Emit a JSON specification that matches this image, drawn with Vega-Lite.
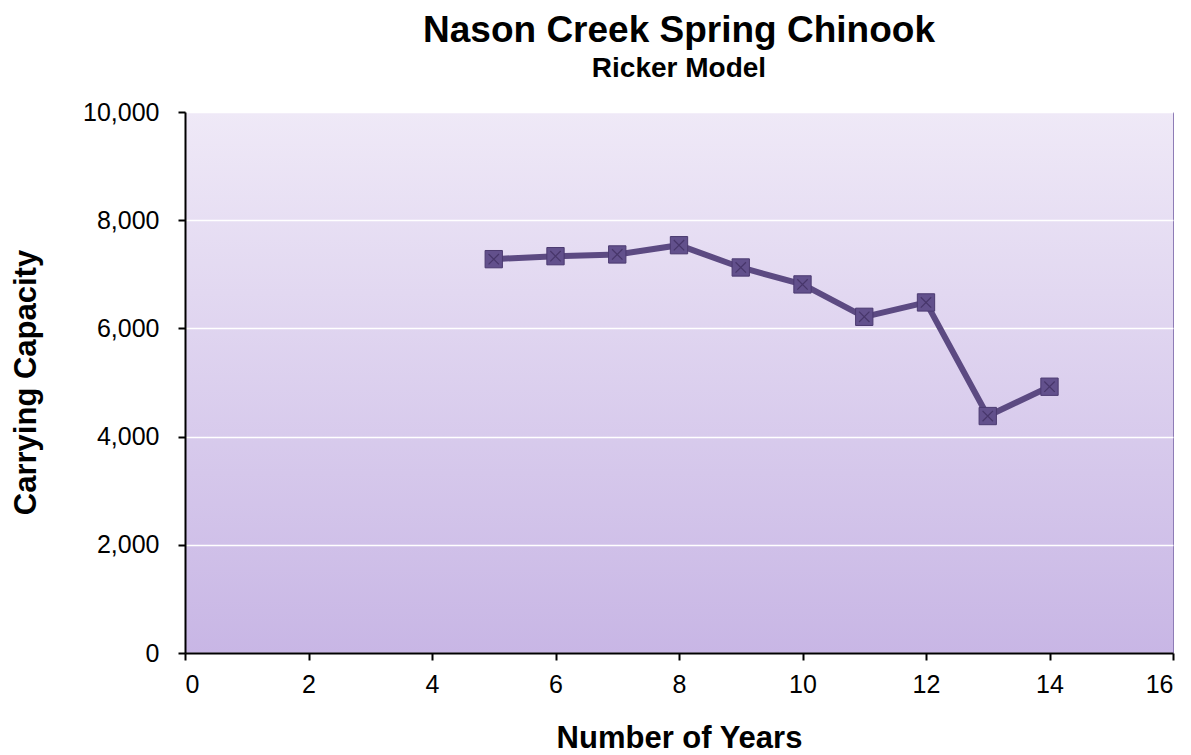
{
  "$schema": "https://vega.github.io/schema/vega-lite/v6.json",
  "width": 988,
  "height": 541,
  "autosize": {"type": "none"},
  "padding": {"left": 185, "top": 112, "right": 18, "bottom": 102},
  "background": "white",
  "title": {
    "text": "Nason Creek Spring Chinook",
    "subtitle": "Ricker Model",
    "anchor": "middle",
    "frame": "group",
    "font": "Liberation Sans",
    "fontSize": 37,
    "fontWeight": "bold",
    "color": "#000000",
    "subtitleFont": "Liberation Sans",
    "subtitleFontSize": 28,
    "subtitleFontWeight": "bold",
    "subtitleColor": "#000000",
    "subtitlePadding": 5,
    "offset": 16
  },
  "config": {
    "view": {
      "fill": {
        "gradient": "linear",
        "x1": 0, "y1": 0, "x2": 0, "y2": 1,
        "stops": [
          {"offset": 0, "color": "#EFE9F7"},
          {"offset": 1, "color": "#C8B6E5"}
        ]
      },
      "stroke": "#8E7CB6",
      "strokeWidth": 1
    },
    "axis": {
      "labelFont": "Liberation Sans",
      "labelFontSize": 25,
      "labelColor": "#000000",
      "titleFont": "Liberation Sans",
      "titleFontWeight": "bold",
      "titleColor": "#000000",
      "domainColor": "#000000",
      "domainWidth": 2,
      "tickColor": "#000000",
      "tickWidth": 2,
      "tickSize": 7,
      "gridColor": "#FFFFFF",
      "gridWidth": 1.5,
      "gridOpacity": 1
    }
  },
  "data": {
    "values": [
      {"years": 5, "capacity": 7280},
      {"years": 6, "capacity": 7335},
      {"years": 7, "capacity": 7367},
      {"years": 8, "capacity": 7538},
      {"years": 9, "capacity": 7126},
      {"years": 10, "capacity": 6813},
      {"years": 11, "capacity": 6214},
      {"years": 12, "capacity": 6480},
      {"years": 13, "capacity": 4380},
      {"years": 14, "capacity": 4922}
    ]
  },
  "encoding": {
    "x": {
      "field": "years",
      "type": "quantitative",
      "scale": {"domain": [0, 16], "nice": false, "zero": true},
      "axis": {
        "values": [0, 2, 4, 6, 8, 10, 12, 14, 16],
        "title": "Number of Years",
        "titleFontSize": 31,
        "grid": false,
        "labelPadding": 12,
        "titlePadding": 26
      }
    },
    "y": {
      "field": "capacity",
      "type": "quantitative",
      "scale": {"domain": [0, 10000], "nice": false},
      "axis": {
        "values": [0, 2000, 4000, 6000, 8000, 10000],
        "format": ",.0f",
        "title": "Carrying Capacity",
        "titleFontSize": 31,
        "grid": true,
        "labelPadding": 19,
        "titleX": -159,
        "titleY": 270,
        "titleAngle": -90,
        "titleBaseline": "middle",
        "titleAlign": "center"
      }
    }
  },
  "layer": [
    {
      "mark": {"type": "line", "color": "#5C4A82", "strokeWidth": 6}
    },
    {
      "mark": {"type": "point", "shape": "square", "size": 300, "filled": true, "color": "#62508C", "stroke": "#4B3A70", "strokeWidth": 1, "opacity": 1}
    },
    {
      "mark": {"type": "point", "shape": "M-0.6,-0.6L0.6,0.6M0.6,-0.6L-0.6,0.6", "size": 300, "filled": false, "color": "#47366A", "strokeWidth": 1.2, "opacity": 1}
    }
  ]
}
